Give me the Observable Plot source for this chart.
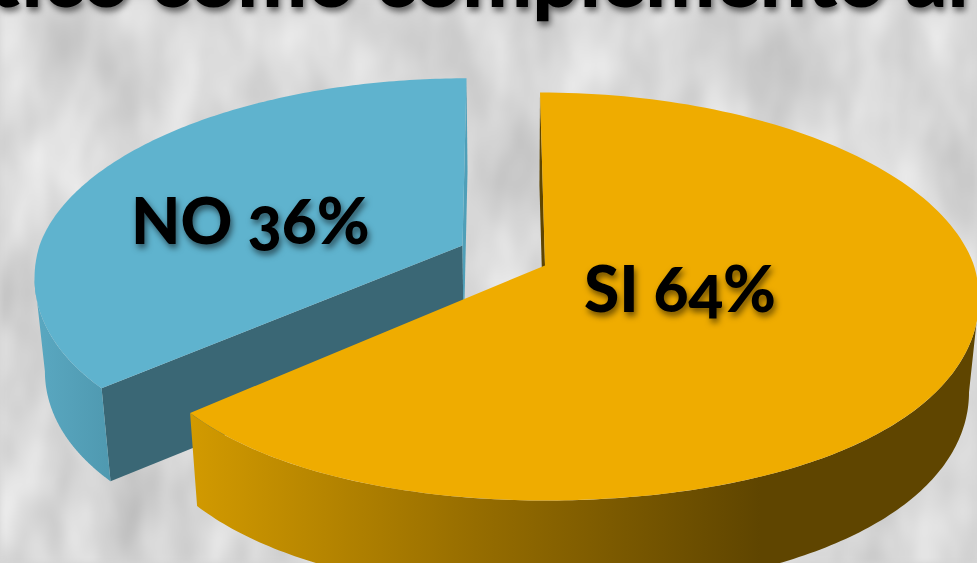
<!DOCTYPE html>
<html>
<head>
<meta charset="utf-8">
<script src="https://cdn.jsdelivr.net/npm/d3@7"></script>
<script src="https://cdn.jsdelivr.net/npm/@observablehq/plot@0.6"></script>
<style>
html,body{margin:0;padding:0;background:#d6d6d6;overflow:hidden}
svg{display:block}
.shadow{filter:drop-shadow(2px 4px 3px rgba(0,0,0,.55))}
.big{font-variant-numeric:oldstyle-nums;font-feature-settings:"onum"}
</style>
</head>
<body>
<div id="chart"></div>
<script>
const categories = ["SI", "NO"];
const values = [64, 36];
const topColors = ["#efac00", "#5fb3ce"];
const cutColors = ["#5f4500", "#3a6775"];
const titleText = "ático como complemento al";

// pie layout
const arcs = d3.pie().sort(null)(values);
const K = 0.152;
const geometry = [
  {ax: 544.5, ay: 265, rxL: 416, rxR: 429, ry: 199.3, lean: 5,  labelR: 0.34, labelDy: -4},
  {ax: 462,   ay: 245, rxL: 423, rxR: 423, ry: 192.6, lean: -4, labelR: 0.578, labelDy: 24}
];
const DEPTH = 93, SHRINK = 0.9784, XC = 514, BUMP = 18;

function project(g, angle, r = 1) {
  const u = Math.sin(angle) * r, v = -Math.cos(angle) * r;
  const s = 1 / (1 - K * v);
  return [
    g.ax + (u < 0 ? g.rxL : g.rxR) * u * s + g.lean * Math.min(v, 0),
    g.ay + g.ry * v * s + BUMP * u * u * Math.max(v, 0)
  ];
}
const lower = ([x, y]) => [XC + (x - XC) * SHRINK, y + DEPTH];
function rim(g, a0, a1, n = 160) {
  return d3.range(n + 1).map(i => project(g, a0 + (a1 - a0) * i / n));
}
const poly = (pts, fill) => Plot.line(pts, {x: d => d[0], y: d => d[1], fill, stroke: "none", curve: "linear"});

const defs = () => {
  const ns = "http://www.w3.org/2000/svg";
  const wrap = document.createElementNS(ns, "g");
  wrap.innerHTML = `
    <defs>
      <linearGradient id="wallY" gradientUnits="userSpaceOnUse" x1="190" x2="760" y1="0" y2="0">
        <stop offset="0" stop-color="#d29a00"/><stop offset="0.5" stop-color="#966d00"/><stop offset="1" stop-color="#5f4500"/>
      </linearGradient>
      <linearGradient id="wallB" gradientUnits="userSpaceOnUse" x1="34" x2="110" y1="0" y2="0">
        <stop offset="0" stop-color="#5aa8c1"/><stop offset="1" stop-color="#4f99b0"/>
      </linearGradient>
      <filter id="tex" x="0" y="0" width="100%" height="100%" color-interpolation-filters="sRGB">
        <feTurbulence type="fractalNoise" baseFrequency="0.02 0.009" numOctaves="3" seed="11"/>
        <feColorMatrix type="matrix" values="0.24 0 0 0 0.725  0.24 0 0 0 0.725  0.24 0 0 0 0.725  0 0 0 0 1"/>
        <feGaussianBlur stdDeviation="3"/>
      </filter>
    </defs>
    <rect width="977" height="563" fill="#d6d6d6"/>
    <rect width="977" height="563" filter="url(#tex)"/>`;
  return wrap;
};

const marks = [defs];
marks.push(Plot.text([titleText], {
  x: () => 968, y: () => 6, text: d => d, textAnchor: "end",
  fontFamily: "Lato", fontWeight: 900, fontSize: 83, fill: "#000", lineAnchor: "bottom", className: "shadow"
}));

// NO first (behind), then SI
[1, 0].forEach(i => {
  const g = geometry[i], a = arcs[i];
  const a0 = a.startAngle, a1 = a.endAngle;
  const apex = [g.ax, g.ay];
  const top = rim(g, a0, a1);
  marks.push(poly([top[0], lower(top[0]), lower(apex), apex], cutColors[i]));
  if (i === 1) {
    // far strip of the closing cut, then the outer wall up to the leftmost point of the rim
    marks.push(poly([top[160], lower(top[160]), lower(apex), apex], "#4f9fb8"));
    const front = rim(g, a0, Math.PI * 1.5 - Math.asin(K));
    marks.push(poly([...front, ...front.slice().reverse().map(lower)], "url(#wallB)"));
  } else {
    const front = rim(g, Math.PI / 2 + Math.asin(K), a1);
    marks.push(poly([...front, ...front.slice().reverse().map(lower)], "url(#wallY)"));
  }
  marks.push(poly([apex, ...top, apex], topColors[i]));
});

// labels at the slice centroids
const labels = arcs.map((a, i) => {
  const g = geometry[i];
  const [x, y] = project(g, (a.startAngle + a.endAngle) / 2, g.labelR);
  return {x, y: y + g.labelDy, text: `${categories[i]} ${values[i]}%`};
});
marks.push(Plot.text(labels, {
  x: "x", y: "y", text: "text", fontFamily: "Lato", fontWeight: 900, fontSize: 64, fill: "#000", className: "shadow big"
}));

const plot = Plot.plot({
  width: 977, height: 563,
  margin: 0,
  x: {domain: [0, 977], axis: null},
  y: {domain: [563, 0], axis: null},
  style: {background: "transparent"},
  marks
});
document.getElementById("chart").append(plot);
</script>
</body>
</html>
